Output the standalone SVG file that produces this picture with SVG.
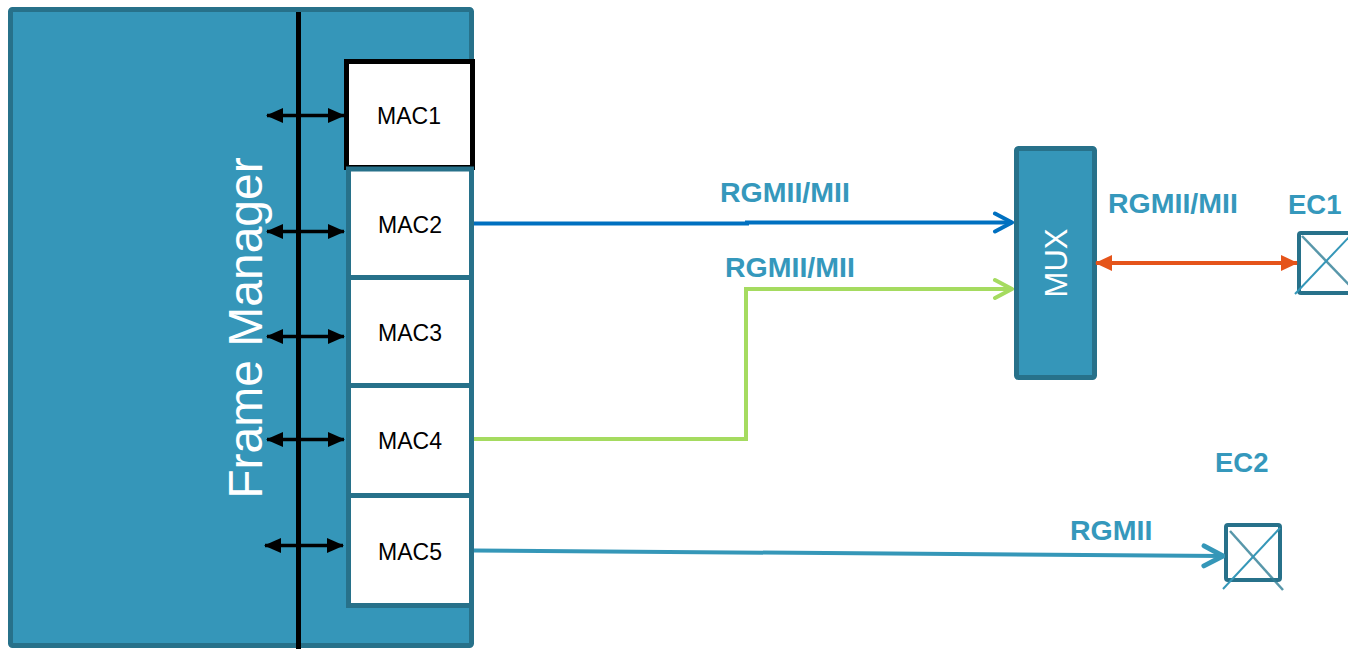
<svg xmlns="http://www.w3.org/2000/svg" width="1348" height="649" viewBox="0 0 1348 649">
  <style>
    .block { fill: #3596b9; stroke: #27718a; stroke-width: 5; }
    .mac { fill: #ffffff; stroke: #27718a; stroke-width: 5; }
    .mac-label { font-family: "Liberation Sans", Arial, sans-serif; font-size: 23px; fill: #000000; text-anchor: middle; }
    .big-label { font-family: "Liberation Sans", Arial, sans-serif; fill: #ffffff; text-anchor: middle; }
    .link-label { font-family: "Liberation Sans", Arial, sans-serif; font-weight: bold; font-size: 28.5px; fill: #3598bc; }
    .port-label { font-family: "Liberation Sans", Arial, sans-serif; font-weight: bold; font-size: 27.5px; fill: #3598bc; }
    .port { fill: #ffffff; stroke: #27718a; stroke-width: 4; }
    .bus-arrow { stroke: #000000; stroke-width: 3.5; fill: none; marker-start: url(#blackHead); marker-end: url(#blackHead); }
  </style>
  <defs>
    <marker id="blackHead" markerUnits="userSpaceOnUse" viewBox="0 0 17 15" refX="16" refY="7.5" markerWidth="17" markerHeight="15" orient="auto-start-reverse">
      <path d="M0,0 L17,7.5 L0,15 Z" fill="#000000"/>
    </marker>
    <marker id="orangeHead" markerUnits="userSpaceOnUse" viewBox="0 0 17 16" refX="16" refY="8" markerWidth="17" markerHeight="16" orient="auto-start-reverse">
      <path d="M0,0 L17,8 L0,16 Z" fill="#e5541a"/>
    </marker>
    <marker id="blueChevron" markerUnits="userSpaceOnUse" viewBox="0 0 22 24" refX="20" refY="12" markerWidth="22" markerHeight="24" orient="auto">
      <path d="M3,3 L20,12 L3,21" fill="none" stroke="#0070c0" stroke-width="4" stroke-linecap="round" stroke-linejoin="round"/>
    </marker>
    <marker id="greenChevron" markerUnits="userSpaceOnUse" viewBox="0 0 22 24" refX="20" refY="12" markerWidth="22" markerHeight="24" orient="auto">
      <path d="M3,3 L20,12 L3,21" fill="none" stroke="#a5db60" stroke-width="4" stroke-linecap="round" stroke-linejoin="round"/>
    </marker>
    <marker id="tealChevron" markerUnits="userSpaceOnUse" viewBox="0 0 24 26" refX="22" refY="13" markerWidth="24" markerHeight="26" orient="auto">
      <path d="M3,3 L22,13 L3,23" fill="none" stroke="#3597b8" stroke-width="5" stroke-linecap="round" stroke-linejoin="round"/>
    </marker>
  </defs>

  <!-- Frame Manager block with its internal bus -->
  <g id="frame-manager">
    <rect class="block" x="10.5" y="9.5" width="461" height="636" rx="2"/>
    <line x1="298.5" y1="12" x2="298.5" y2="649" stroke="#000000" stroke-width="5"/>
    <text class="big-label" font-size="48" transform="translate(262,328) rotate(-90)">Frame Manager</text>
  </g>

  <!-- MAC blocks -->
  <g id="mac1">
    <rect x="346.5" y="61.5" width="126" height="106" fill="#ffffff" stroke="#000000" stroke-width="5"/>
    <text class="mac-label" x="409" y="124">MAC1</text>
  </g>
  <g id="mac2">
    <rect class="mac" x="348.5" y="169" width="123" height="108.5"/>
    <text class="mac-label" x="410" y="233">MAC2</text>
  </g>
  <g id="mac3">
    <rect class="mac" x="348.5" y="277.5" width="123" height="108"/>
    <text class="mac-label" x="410" y="341">MAC3</text>
  </g>
  <g id="mac4">
    <rect class="mac" x="348.5" y="385.5" width="123" height="110"/>
    <text class="mac-label" x="410" y="449">MAC4</text>
  </g>
  <g id="mac5">
    <rect class="mac" x="348.5" y="495.5" width="123" height="110"/>
    <text class="mac-label" x="410" y="560">MAC5</text>
  </g>

  <!-- MUX -->
  <g id="mux">
    <rect class="block" x="1016.5" y="148.5" width="78" height="229" rx="2"/>
    <text class="big-label" font-size="31" transform="translate(1067,263) rotate(-90)">MUX</text>
  </g>

  <!-- External ports -->
  <g id="ec1">
    <rect class="port" x="1299" y="233" width="56" height="60" rx="2"/>
    <line x1="1302" y1="236" x2="1356" y2="292" stroke="#2f7e95" stroke-width="2.5" opacity="0.8"/>
    <line x1="1350" y1="236" x2="1295" y2="294" stroke="#3597b8" stroke-width="2"/>
    <text class="port-label" x="1288" y="214">EC1</text>
  </g>
  <g id="ec2">
    <rect class="port" x="1226" y="525" width="54" height="55" rx="2"/>
    <line x1="1230" y1="531" x2="1283" y2="590" stroke="#2f7e95" stroke-width="2.5" opacity="0.8"/>
    <line x1="1280" y1="528" x2="1223" y2="589" stroke="#3597b8" stroke-width="2"/>
    <text class="port-label" x="1215" y="472">EC2</text>
  </g>

  <!-- Connectors -->
  <g id="connectors">
    <line class="bus-arrow" x1="267" y1="115.5" x2="344" y2="115.5"/>
    <line class="bus-arrow" x1="267" y1="231.5" x2="344" y2="231.5"/>
    <line class="bus-arrow" x1="267" y1="336.5" x2="344" y2="336.5"/>
    <line class="bus-arrow" x1="267" y1="439.5" x2="344" y2="439.5"/>
    <line class="bus-arrow" x1="265" y1="545.5" x2="343" y2="545.5"/>

    <polyline points="474,223.5 747,223.5 747,222.5 1012,222.5" fill="none" stroke="#0070c0" stroke-width="4" marker-end="url(#blueChevron)"/>
    <polyline points="474,439 746,439 746,289 1012,289" fill="none" stroke="#a5db60" stroke-width="4" marker-end="url(#greenChevron)"/>
    <line x1="1096" y1="263" x2="1297" y2="263" stroke="#e5541a" stroke-width="4" marker-start="url(#orangeHead)" marker-end="url(#orangeHead)"/>
    <line x1="474" y1="550.5" x2="1223" y2="556" stroke="#3597b8" stroke-width="4" marker-end="url(#tealChevron)"/>

    <text class="link-label" x="720" y="202">RGMII/MII</text>
    <text class="link-label" x="725" y="277">RGMII/MII</text>
    <text class="link-label" x="1108" y="213">RGMII/MII</text>
    <text class="link-label" x="1070" y="540">RGMII</text>
  </g>
</svg>
